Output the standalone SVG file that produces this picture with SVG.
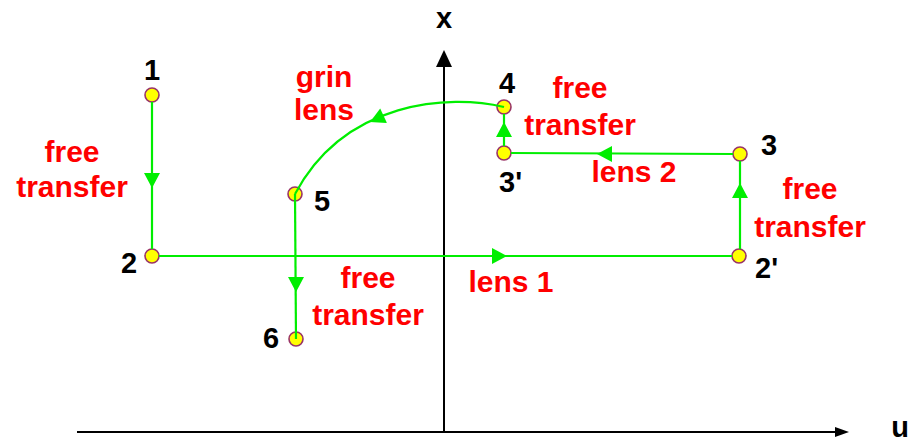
<svg xmlns="http://www.w3.org/2000/svg" xmlns:xlink="http://www.w3.org/1999/xlink" width="918" height="443" viewBox="0 0 918 443">
<style>
.lbl{font-family:"Liberation Sans",Arial,sans-serif;font-weight:bold;font-size:29px;fill:#000}
.red{font-family:"Liberation Sans",Arial,sans-serif;font-weight:bold;font-size:30px;fill:#ff0000;text-anchor:middle}
.pt{fill:#ffff00;stroke:#993366;stroke-width:1.6}
.ln{fill:none;stroke:#00ee00;stroke-width:2.2}
.ax{stroke:#000;stroke-width:2;fill:none}
.ah{fill:#00ee00}
</style>
<defs>
<path id="head" d="M0,0 L-15,-8 L-15,8 Z"/>
</defs>
<g id="axes">
<line class="ax" x1="77" y1="432" x2="836" y2="432"/>
<path d="M849,432 L835,427 L835,437 Z" fill="#000"/>
<line class="ax" x1="444" y1="432" x2="444" y2="64"/>
<path d="M444,50 L436,67 L452,67 Z" fill="#000"/>
<text class="lbl" x="444" y="28" text-anchor="middle">x</text>
<text class="lbl" x="900" y="437" text-anchor="middle">u</text>
</g>
<g id="node-1"><circle class="pt" cx="152" cy="95" r="7"/><text class="lbl" x="152" y="80" text-anchor="middle">1</text></g>
<g id="node-2"><circle class="pt" cx="152" cy="256" r="7"/><text class="lbl" x="129" y="273" text-anchor="middle">2</text></g>
<g id="node-2p"><circle class="pt" cx="739" cy="256" r="7"/><text class="lbl" x="755" y="278">2'</text></g>
<g id="node-3"><circle class="pt" cx="740" cy="154" r="7"/><text class="lbl" x="761" y="155">3</text></g>
<g id="node-3p"><circle class="pt" cx="504" cy="153" r="7"/><text class="lbl" x="499" y="192">3'</text></g>
<g id="node-4"><circle class="pt" cx="504" cy="107" r="7"/><text class="lbl" x="499" y="93">4</text></g>
<g id="node-5"><circle class="pt" cx="295" cy="194" r="7"/><text class="lbl" x="314" y="211">5</text></g>
<g id="node-6"><circle class="pt" cx="296" cy="339" r="7"/><text class="lbl" x="263" y="348">6</text></g>
<g id="connectors">
<line class="ln" x1="152" y1="102" x2="152" y2="249"/>
<line class="ln" x1="159" y1="256" x2="732" y2="256"/>
<line class="ln" x1="740" y1="249" x2="740" y2="161"/>
<line class="ln" x1="733" y1="154" x2="511" y2="153"/>
<line class="ln" x1="504" y1="146" x2="504" y2="114"/>
<path class="ln" d="M504,107 C450,94 345,100 295,194"/>
<line class="ln" x1="295" y1="194" x2="296" y2="339"/>
<use class="ah" xlink:href="#head" transform="translate(152,188) rotate(90)"/>
<use class="ah" xlink:href="#head" transform="translate(507,256)"/>
<use class="ah" xlink:href="#head" transform="translate(740,183) rotate(-90)"/>
<use class="ah" xlink:href="#head" transform="translate(597,154) rotate(180)"/>
<use class="ah" xlink:href="#head" transform="translate(504,122) rotate(-90)"/>
<use class="ah" xlink:href="#head" transform="translate(370,122) rotate(155)"/>
<use class="ah" xlink:href="#head" transform="translate(296,292) rotate(90)"/>
</g>
<g id="labels">
<text class="red" x="72" y="162">free</text>
<text class="red" x="72" y="197">transfer</text>
<text class="red" x="324" y="87">grin</text>
<text class="red" x="324" y="120">lens</text>
<text class="red" x="580" y="98">free</text>
<text class="red" x="580" y="135">transfer</text>
<text class="red" x="634" y="182">lens 2</text>
<text class="red" x="810" y="199">free</text>
<text class="red" x="810" y="237">transfer</text>
<text class="red" x="368" y="288">free</text>
<text class="red" x="368" y="325">transfer</text>
<text class="red" x="511" y="292">lens 1</text>
</g>
</svg>
